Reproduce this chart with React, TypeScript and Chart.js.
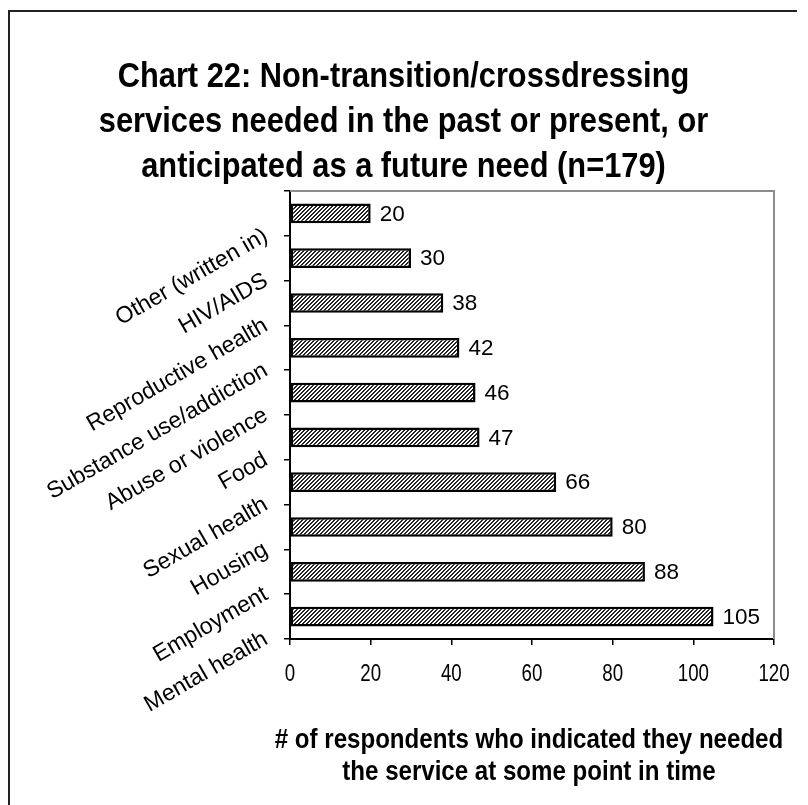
import React, { useEffect, useRef } from "react";
import { Chart, registerables } from "chart.js";

Chart.register(...registerables);

// ---- Data ----
const categories: string[] = [
  "Other (written in)",
  "HIV/AIDS",
  "Reproductive health",
  "Substance use/addiction",
  "Abuse or violence",
  "Food",
  "Sexual health",
  "Housing",
  "Employment",
  "Mental health",
];
const values: number[] = [20, 30, 38, 42, 46, 47, 66, 80, 88, 105];
const xMin = 0;
const xMax = 120;
const xStep = 20;
const titleLines: string[] = [
  "Chart 22: Non-transition/crossdressing",
  "services needed in the past or present, or",
  "anticipated as a future need (n=179)",
];
const axisTitleLines: string[] = [
  "# of respondents who indicated they needed",
  "the service at some point in time",
];

const CANVAS_W = 787;
const CANVAS_H = 793;
const SANS = '"Liberation Sans", Arial, Helvetica, sans-serif';

function condensedText(
  c: CanvasRenderingContext2D,
  text: string,
  x: number,
  y: number,
  sx: number
) {
  c.save();
  c.translate(x, y);
  c.scale(sx, 1);
  c.fillText(text, 0, 0);
  c.restore();
}

export default function App() {
  const ref = useRef<HTMLCanvasElement | null>(null);

  useEffect(() => {
    const canvas = ref.current;
    if (!canvas) return;

    // hatched pattern (fine forward diagonals)
    const pc = document.createElement("canvas");
    pc.width = 4;
    pc.height = 4;
    const pctx = pc.getContext("2d")!;
    pctx.fillStyle = "#ffffff";
    pctx.fillRect(0, 0, 4, 4);
    pctx.fillStyle = "#262626";
    for (let i = 0; i < 4; i++) {
      pctx.fillRect(i, 3 - i, 1, 1);
      pctx.fillRect(i, (4 - i) % 4, 1, 1);
    }
    const ctx = canvas.getContext("2d")!;
    const pattern = ctx.createPattern(pc, "repeat") as CanvasPattern;

    const valueLabels = {
      id: "valueLabels",
      afterDatasetsDraw(chart: any) {
        const c = chart.ctx;
        const meta = chart.getDatasetMeta(0);
        c.save();
        c.font = `22.5px ${SANS}`;
        c.fillStyle = "#000";
        c.textAlign = "left";
        c.textBaseline = "middle";
        meta.data.forEach((el: any, i: number) => {
          c.fillText(String(values[i]), el.x + 9, el.y + 1);
        });
        c.restore();
      },
    };

    const plotBorder = {
      id: "plotBorder",
      beforeDatasetsDraw(chart: any) {
        const { left, right, top, bottom } = chart.chartArea;
        const c = chart.ctx;
        c.save();
        c.strokeStyle = "#8c8c8c";
        c.lineWidth = 2;
        c.beginPath();
        c.moveTo(left, top);
        c.lineTo(right, top);
        c.lineTo(right, bottom);
        c.stroke();
        c.restore();
      },
    };

    const texts = {
      id: "texts",
      afterDraw(chart: any) {
        const c: CanvasRenderingContext2D = chart.ctx;
        c.save();
        c.fillStyle = "#000";
        c.textAlign = "center";
        c.textBaseline = "middle";
        // chart title
        c.font = `bold 35px ${SANS}`;
        titleLines.forEach((line, i) => {
          condensedText(c, line, chart.width / 2, 65 + i * 45, 0.88);
        });
        // x tick labels, from the library's scale
        const xs = chart.scales.x;
        c.font = `24px ${SANS}`;
        xs.ticks.forEach((t: any) => {
          const px = xs.getPixelForValue(t.value);
          condensedText(c, String(t.value), px, xs.top + 35, 0.78);
        });
        // x axis title
        c.font = `bold 28px ${SANS}`;
        const cx = (xs.left + xs.right) / 2 - 3;
        axisTitleLines.forEach((line, i) => {
          condensedText(c, line, cx, xs.top + 101 + i * 32, 0.86);
        });
        c.restore();
      },
    };

    const chart = new Chart(canvas, {
      type: "bar",
      data: {
        labels: categories,
        datasets: [
          {
            data: values,
            backgroundColor: pattern as any,
            borderColor: "#000",
            borderWidth: 2.5,
            borderSkipped: false,
            barPercentage: 0.44,
            categoryPercentage: 1,
          },
        ],
      },
      options: {
        indexAxis: "y",
        responsive: false,
        animation: false,
        layout: { padding: { left: 0, right: CANVAS_W - 764, top: 179, bottom: 17 } },
        plugins: {
          legend: { display: false },
          tooltip: { enabled: false },
          title: { display: false },
        },
        scales: {
          x: {
            type: "linear",
            min: xMin,
            max: xMax,
            ticks: {
              stepSize: xStep,
              display: false,
            },
            grid: {
              display: true,
              drawOnChartArea: false,
              drawTicks: true,
              tickLength: 6,
              color: "#000",
              lineWidth: 1.5,
            },
            border: { display: true, color: "#000", width: 2 },
            title: { display: false },
            afterFit(scale: any) {
              scale.height = 149;
            },
          },
          y: {
            type: "category",
            ticks: {
              color: "#000",
              minRotation: 30,
              maxRotation: 30,
              labelOffset: 21,
              padding: 18,
              autoSkip: false,
              font: { family: SANS, size: 23 },
            },
            grid: {
              display: true,
              drawOnChartArea: false,
              drawTicks: true,
              tickLength: 6,
              color: "#000",
              lineWidth: 1.5,
            },
            border: { display: true, color: "#000", width: 2 },
            afterFit(scale: any) {
              scale.width = 280;
            },
          },
        },
      },
      plugins: [plotBorder, valueLabels, texts],
    });

    return () => {
      chart.destroy();
    };
  }, []);

  return (
    <div
      style={{
        marginTop: 2,
        width: CANVAS_W + 2,
        height: CANVAS_H + 2,
        borderTop: "2px solid #222",
        borderLeft: "2px solid #222",
        boxSizing: "border-box",
        background: "#fff",
      }}
    >
      <canvas
        ref={ref}
        width={CANVAS_W}
        height={CANVAS_H}
        style={{ display: "block", width: CANVAS_W, height: CANVAS_H }}
      />
    </div>
  );
}
